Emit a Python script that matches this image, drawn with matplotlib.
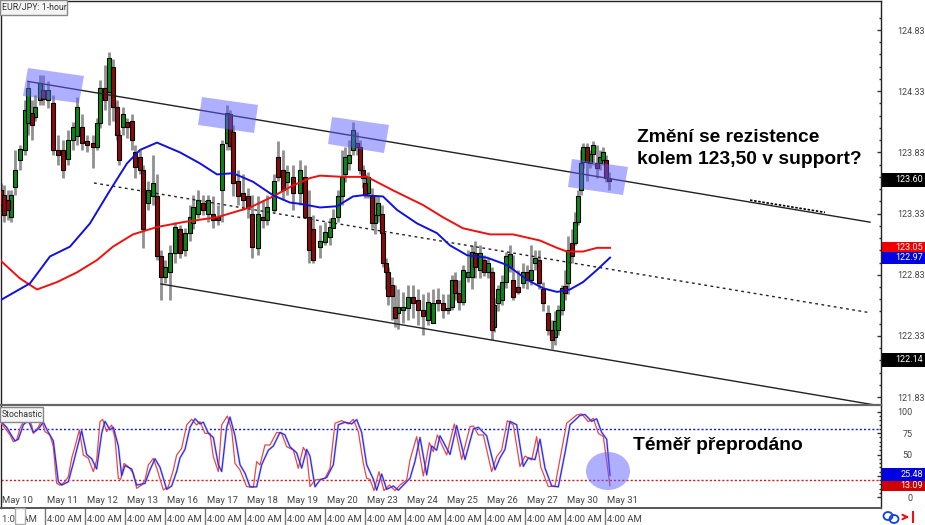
import numpy as np
import matplotlib
matplotlib.use("Agg")
import matplotlib.pyplot as plt
from matplotlib.patches import Polygon, Ellipse, Rectangle
from matplotlib.ticker import FixedLocator

plt.rcParams['font.family'] = ['Roboto', 'DejaVu Sans']

# hourly axis, hours since the left edge of the chart
bar_hours = [0.6,2.4,4.8,6.6,9,12,15,16.8,19.2,21,24,25.8,28.8,31.8,34.8,37.8,40.8,43.8,46.2,49.2,
             52.2,55.8,58.2,60,63,65.4,67.8,70.2,71.4,73.8,76.2,79.2,81,84,85.8,88.8,91.8,94.2,96.6,99,
             102,105,108,111,114,115.8,118.8,121.8,124.8,127.8,130.8,133.2,136.2,138,139.8,142.8,145.8,148.8,151.2,154.8,
             157.8,160.2,164.4,166.8,169.8,172.2,175.8,180,183,185.4,187.8,192,195,198,199.8,202.8,205.2,207,209.4,211.8,
             214.2,216,217.8,219,220.8,223.2,225,226.8,229.2,229.8,231.6,232.8,235.2,237,238.8,241.8,244.8,247.8,250.8,253.8,
             256.8,259.8,262.8,265.8,268.8,271.2,273,275.4,277.8,280.8,283.2,285,288,290.4,292.8,295.2,296.4,298.8,301.2,303.6,
             306,307.8,310.8,313.8,316.2,318.6,321,323.4,325.8,328.8,331.2,333,334.8,337.2,339,340.8,343.2,345,346.8,348.6,
             349.8,352.2,354,355.8,358.2,360,361.8,363.6,365.4]

opens = [123.52,123.48,123.44,123.30,123.55,123.77,123.85,124.07,124.15,124.12,124.26,124.34,124.26,124.23,123.85,123.85,123.78,123.93,123.96,124.04,
         123.92,123.91,123.87,124.07,124.36,124.32,124.53,124.20,123.97,124.04,124.08,124.09,123.83,123.79,123.69,123.42,123.47,123.47,122.98,122.81,
         122.85,123.01,123.20,123.03,123.17,123.25,123.33,123.42,123.33,123.33,123.30,123.52,123.91,124.14,124.00,123.60,123.50,123.47,123.33,123.05,
         123.30,123.28,123.36,123.79,123.69,123.59,123.63,123.50,123.63,123.30,123.20,123.06,123.10,123.14,123.21,123.30,123.47,123.65,123.74,123.85,
         123.91,123.87,123.69,123.58,123.50,123.47,123.25,123.32,123.33,123.17,122.93,122.85,122.75,122.57,122.52,122.54,122.56,122.65,122.62,122.54,
         122.46,122.44,122.62,122.60,122.54,122.57,122.79,122.68,122.61,122.81,122.81,123.01,122.87,122.95,122.85,122.85,122.40,122.60,122.62,122.77,
         122.89,122.79,122.73,122.76,122.85,122.79,122.93,122.95,122.71,122.52,122.38,122.32,122.38,122.54,122.74,122.76,123.09,123.09,123.26,123.52,
         123.75,123.87,123.74,123.82,123.74,123.74,123.77,123.77,123.62]
closes = [123.40,123.32,123.36,123.48,123.69,123.86,124.18,124.36,124.05,124.20,124.40,124.27,124.34,123.85,123.81,123.69,123.93,124.04,124.20,123.91,
          123.89,123.87,124.07,124.36,124.26,124.60,124.20,123.97,123.77,124.14,124.04,123.93,123.71,123.69,123.20,123.52,123.58,122.98,122.81,122.89,
          123.01,123.22,123.01,123.17,123.30,123.38,123.44,123.36,123.44,123.28,123.28,123.90,124.15,123.88,123.58,123.47,123.44,123.38,123.06,123.33,
          123.28,123.38,123.60,123.63,123.52,123.67,123.50,123.69,123.30,123.03,122.95,123.11,123.18,123.22,123.29,123.47,123.63,123.79,123.81,124.01,
          123.87,123.69,123.62,123.48,123.63,123.25,123.32,123.42,123.17,122.93,122.85,122.66,122.66,122.48,122.57,122.57,122.65,122.60,122.54,122.49,
          122.61,122.60,122.60,122.54,122.56,122.79,122.68,122.61,122.87,122.85,123.02,122.89,123.01,122.85,122.93,122.38,122.58,122.71,122.77,122.98,
          123.00,122.65,122.69,122.85,122.79,122.87,122.97,122.76,122.60,122.38,122.30,122.45,122.54,122.72,122.68,123.03,122.98,123.26,123.47,123.74,
          123.87,123.75,123.82,123.89,123.70,123.79,123.83,123.62,123.60]
highs = [123.58,123.56,123.52,123.52,123.85,123.89,124.26,124.41,124.26,124.30,124.46,124.46,124.41,124.30,123.97,123.93,124.01,124.08,124.28,124.14,
         123.97,123.97,124.11,124.42,124.54,124.65,124.59,124.26,124.01,124.20,124.11,124.14,123.89,123.85,123.73,123.60,123.81,123.65,123.03,122.95,
         123.07,123.26,123.24,123.21,123.40,123.48,123.52,123.48,123.48,123.47,123.40,123.93,124.22,124.18,124.05,123.69,123.65,123.54,123.48,123.47,
         123.44,123.48,123.65,123.92,123.85,123.73,123.73,123.77,123.73,123.52,123.32,123.24,123.26,123.29,123.37,123.52,123.85,123.87,123.93,124.08,
         124.00,123.93,123.73,123.65,123.67,123.54,123.48,123.47,123.40,123.21,122.97,122.89,122.81,122.75,122.71,122.69,122.75,122.75,122.71,122.67,
         122.69,122.71,122.72,122.67,122.67,122.83,122.85,122.79,122.91,123.03,123.07,123.11,123.07,122.99,122.97,122.89,122.64,122.75,122.83,123.02,
         123.07,122.99,122.87,122.93,122.91,123.07,123.03,123.03,122.77,122.58,122.46,122.53,122.58,122.75,122.87,123.15,123.20,123.34,123.52,123.85,
         123.91,123.91,123.85,123.92,123.89,123.85,123.87,123.81,123.67]
lows = [123.34,123.26,123.28,123.26,123.48,123.69,123.81,123.97,123.93,124.09,124.22,124.22,124.19,123.81,123.73,123.62,123.73,123.85,123.89,123.85,
        123.83,123.70,123.85,124.03,124.18,124.05,124.09,123.93,123.73,123.97,123.95,123.85,123.62,123.65,123.05,123.36,123.40,122.95,122.62,122.76,
        122.62,122.93,122.97,122.98,123.11,123.20,123.29,123.32,123.26,123.21,123.24,123.26,123.85,123.85,123.47,123.40,123.36,123.29,122.97,122.99,
        123.21,123.24,123.34,123.60,123.44,123.48,123.36,123.40,123.29,122.93,122.93,122.97,123.07,123.07,123.21,123.26,123.40,123.59,123.69,123.81,
        123.81,123.65,123.54,123.46,123.46,123.21,123.16,123.26,123.11,122.89,122.71,122.58,122.46,122.40,122.39,122.44,122.46,122.48,122.42,122.34,
        122.42,122.44,122.53,122.48,122.51,122.54,122.62,122.54,122.58,122.77,122.71,122.80,122.80,122.82,122.80,122.30,122.36,122.53,122.58,122.72,
        122.85,122.62,122.67,122.72,122.71,122.75,122.87,122.71,122.53,122.34,122.22,122.26,122.34,122.50,122.62,122.67,122.93,123.07,123.24,123.48,
        123.70,123.60,123.70,123.73,123.62,123.69,123.73,123.59,123.52]

blue_ma_hours = [0,18,30,42,54,66,76.2,84,94.2,108,120,130.2,139.8,151.8,163.8,174,180,192,202.2,211.8,217.8,229.8,
                 238.2,250.2,262.2,270,280.2,292.2,304.2,316.2,325.8,334.2,342,349.8,358.2,366]
blue_ma = [122.62,122.76,122.98,123.06,123.25,123.52,123.74,123.85,123.91,123.83,123.74,123.65,123.66,123.59,123.48,123.42,123.41,123.38,123.39,123.47,123.48,123.47,
           123.36,123.25,123.17,123.07,122.99,122.97,122.91,122.79,122.72,122.69,122.71,122.77,122.87,122.97]
red_ma_hours = [0,12,22.2,34.2,46.2,58.2,67.8,79.8,94.2,109.8,130.2,150,163.8,175.8,186,192,205.8,220.2,235.8,253.8,265.8,277.8,
                294,307.8,324,334.2,340.2,349.8,358.2,366]
red_ma = [122.95,122.80,122.71,122.77,122.85,122.95,123.06,123.16,123.22,123.26,123.30,123.38,123.47,123.56,123.62,123.64,123.63,123.63,123.52,123.40,123.30,123.21,
          123.16,123.16,123.11,123.05,123.02,123.02,123.05,123.05]

# channel lines: [start, end]
upper_hours, upper_price = [16.8, 522], [124.41, 123.26]
mid_hours, mid_price = [56.4, 522], [123.58, 122.52]
lower_hours, lower_price = [96.6, 525], [122.755, 121.766]
noise_hours, noise_price = [450, 495], [123.44, 123.34]

price_ticks = [124.83, 124.33, 123.83, 123.33, 122.83, 122.33, 121.83]

stoch_red_hours = [0,3,6,8,10,12,14,17,19,20,22,25,27,30,32,34,36,39,41,43,45,47.6,50,53,56,58,60,61.6,64,67,69,71,72.4,74.4,77,80,82,85,87,89,92,94.4,98,101,104,106,109,112,115,118,120,123,126,128,131,133,136.4,139,141,144,148,152,154,156,159,162,166,169,172,176,179,182,184,186,
                   189,192,195,198,201,205,209,212,215,218,220,222,224.4,227.4,230.4,233.6,237,240,244,246,250,254,257.6,260,262.4,268,272.6,277,282,284,287,290,295,298,301,304.4,308,312,315,319,322,324.4,329,333,337,340,346,349,353,356,359,362,366]
stoch_red = [88.6,80.8,73,65.1,67,80.8,88.6,92.5,84.7,74.9,78.8,89.8,76.9,73,59.2,16.1,14.1,18.1,23.9,45.5,59.2,78.8,49.4,45.5,29.8,43.5,88.6,91.4,76.9,84.7,69,22,20.8,39.6,35.7,27.9,10.2,14.1,20,37.7,45.5,31.8,8.3,12.2,31.8,49.4,57.3,84.7,91.4,84.7,88.6,74.9,74.9,47.4,29.8,84.7,95.3,78.8,39.6,31.8,12.2,11.4,41.6,37.7,61.2,61.2,76,74.9,59.2,55.3,33.7,58.4,51.4,12.2,
             20,20.8,22,33.7,86.7,89.8,85.9,91.4,76.9,39.6,22,20.8,7.5,29.8,7.5,14.1,7.5,14.1,20,43.5,71,24.7,63.9,53.3,73,49.4,85.9,44.3,82.7,83.5,73,73,29.8,47.4,55.3,89.8,84.7,35.7,48.2,43.5,71,35.7,12.2,13,55.3,86.7,96.5,97.7,88.6,92.5,74.9,71,13.09]
stoch_blue_hours = [0,4,7,9,11,14,17,20,23,26,29,32,35,37,41,44,47,49,52,55,58,61,63,66,68,71,73,75,79,82,87,90,93,96,100,103,106,108,111,114,117,120,122,125,128,131,133,136,138,141,144,147,150,154,157,161,164,168,171,174,178,181,184,186,
                    189,192,196,200,203,207,211,214,217,220,224,226,229,232,236,239,242,246,249,252,256,259,262,264,270,274,279,284,287,292,297,300,303,306,310,314,317,321,324,327,331,335,339,342,348,351,355,358,361,364,366]
stoch_blue = [90,82,72,66,68,85,90,76,80,88,76,66,18,14,18,40,63,78,50,45,33,75,89,79,82,60,25,37,33,14,16,32,45,35,9,13,30,46,56,82,92,86,88,75,70,38,30,82,94,72,38,28,12,12,38,55,60,76,73,59,52,34,56,48,
              12,20,23,38,85,88,86,91,76,38,21,8,27,9,13,8,14,22,42,70,26,60,55,72,50,84,44,80,82,72,32,46,56,89,85,36,46,44,68,34,13,12,52,85,96,97,89,92,76,68,25.48]

stoch_ticks = [100, 75, 50, 25, 0]
stoch_tick_labels = ['100', '75', '50', '', '0']
day_labels = ['May 10','May 11','May 12','May 13','May 16','May 17','May 18','May 19','May 20',
              'May 23','May 24','May 25','May 26','May 27','May 30','May 31']
time_label = '4:00 AM'

GRAY = '#444444'
fig = plt.figure(figsize=(9.25, 5.25), dpi=100, facecolor='white')

# price panel
ax = fig.add_axes([1/925, 120/525, 880/925, 404/525])
ax.set_xlim(0.6, 528.6)
ax.set_ylim(121.766, 125.067)

o, c, h, l = map(np.array, (opens, closes, highs, lows))
bx = np.array(bar_hours)
up = c >= o
ax.vlines(bx, l, h, color='#909090', lw=2.0, zorder=2)
ax.bar(bx[up], (c-o)[up], bottom=o[up], width=2.3, color='#0a8a14', edgecolor='black', lw=0.8, zorder=3)
ax.bar(bx[~up], (c-o)[~up], bottom=o[~up], width=2.3, color='#8c0a0a', edgecolor='black', lw=0.8, zorder=3)

ax.plot(upper_hours, upper_price, color='#222222', lw=1, zorder=4)
ax.plot(mid_hours, mid_price, color='#222222', lw=1, ls=(0, (2, 2.5)), zorder=4)
ax.plot(lower_hours, lower_price, color='#222222', lw=1, zorder=4)
ax.plot(noise_hours, noise_price, color='black', lw=1.2, ls=(0, (1.5, 1)), zorder=4)
ax.plot(red_ma_hours, red_ma, color='#f01010', lw=1.4, zorder=5)
ax.plot(blue_ma_hours, blue_ma, color='#1010e0', lw=1.4, zorder=5)

ax.yaxis.tick_right()
ax.yaxis.set_major_locator(FixedLocator(price_ticks))
ax.yaxis.set_minor_locator(FixedLocator(np.arange(121.83, 125.0, 0.1)))
ax.set_yticklabels([f'{t:.2f}' for t in price_ticks])
ax.tick_params(axis='y', which='major', direction='in', length=3.2, width=1, pad=11.5, labelsize=6.5, labelcolor=GRAY, color='#333333')
ax.tick_params(axis='y', which='minor', direction='in', length=1.6, width=1, color='#333333')
ax.set_xticks([])
for s in ax.spines.values():
    s.set_color('#222222')
    s.set_linewidth(1)
ax.spines['bottom'].set_visible(False)

# stochastic panel
ax2 = fig.add_axes([1/925, 17/525, 880/925, 103/525])
ax2.set_xlim(0.6, 528.6)
ax2.set_ylim(-12.9, 108.2)
ax2.axhline(80, color='#1818d8', lw=1, ls=(0, (1.5, 1.5)))
ax2.axhline(20, color='#d81818', lw=1, ls=(0, (1.5, 1.5)))
ax2.plot(stoch_blue_hours, stoch_blue, color='#c0c0ff', lw=1.6, zorder=2)
ax2.plot(stoch_red_hours, stoch_red, color='#e84848', lw=0.9, zorder=3)
ax2.plot(stoch_blue_hours, stoch_blue, color='#2828e8', lw=0.8, zorder=3)
ax2.yaxis.tick_right()
ax2.set_yticks(stoch_ticks)
ax2.set_yticklabels(stoch_tick_labels)
ax2.yaxis.set_minor_locator(FixedLocator(np.arange(0, 105, 5)))
ax2.tick_params(axis='y', which='major', direction='in', length=3.2, width=1, pad=23, labelsize=6.5, labelcolor=GRAY, color='#333333')
ax2.tick_params(axis='y', which='minor', direction='in', length=1.6, width=1, color='#333333')
for lab in ax2.get_yticklabels():
    lab.set_ha('right')
for s in ax2.spines.values():
    s.set_color('#222222')
    s.set_linewidth(1)
ax2.spines['top'].set_color('#666666')
ax2.spines['top'].set_linewidth(1.6)
ax2.spines['bottom'].set_color('#555555')
ax2.spines['bottom'].set_linewidth(1.4)

sep_hours = [27 + 24*i for i in range(15)]
ax2.set_xticks(sep_hours)
ax2.set_xticklabels([])
ax2.tick_params(axis='x', direction='out', length=12.5, width=1, color='#777777')
trans = ax2.get_xaxis_transform()
ax2.text(1.5, 0.07, day_labels[0], transform=trans, fontsize=6.8, color=GRAY, va='center')
for hr, lab in zip(sep_hours, day_labels[1:]):
    ax2.text(hr+1.2, 0.07, lab, transform=trans, fontsize=6.8, color=GRAY, va='center')
    ax2.text(hr+1.2, -0.11, time_label, transform=trans, fontsize=6.8, color=GRAY, va='center', clip_on=False)
ax2.text(1.5, -0.11, '1:00 AM', transform=trans, fontsize=6.8, color=GRAY, va='center', clip_on=False)

# overlay in picture pixels: highlights, labels, price flags
ov = fig.add_axes([0, 0, 1, 1], facecolor='none', zorder=10)
ov.set_xlim(0, 925)
ov.set_ylim(525, 0)
ov.axis('off')

hl = dict(facecolor='#6060ff', edgecolor='none', alpha=0.5)
for pts in ([(28,68),(84,76),(79,103),(23,96)],
            [(202,97),(258,105),(254,133),(198,125)],
            [(332,117),(389,125),(384,153),(328,144)],
            [(572,159),(628,167),(623,195),(568,187)]):
    ov.add_patch(Polygon(pts, closed=True, **hl))
ov.add_patch(Ellipse((608, 471), 44, 38, **hl))

ov.text(637, 137, 'Změní se rezistence', family='Liberation Sans', weight='bold', fontsize=13.9, va='center', color='black')
ov.text(637, 159, 'kolem 123,50 v support?', family='Liberation Sans', weight='bold', fontsize=13.9, va='center', color='black')
ov.text(633, 446, 'Téměř přeprodáno', family='Liberation Sans', weight='bold', fontsize=13.9, va='center', color='black')

def name_box(x1, y1, txt):
    ov.add_patch(Rectangle((0, y1), x1, 15, facecolor='#f4f4f4', edgecolor='#888888', lw=1))
    ov.text(2, y1+7.5, txt, fontsize=6.3, color='#333333', va='center')
name_box(67, 0, 'EUR/JPY: 1-hour')
name_box(43, 407, 'Stochastic')

def flag(y0, y1, col, txt):
    ov.add_patch(Rectangle((882, y0), 43, y1-y0, facecolor=col, edgecolor='none'))
    ov.text(923, (y0+y1)/2, txt, color='white', fontsize=6.5, ha='right', va='center')
flag(173, 187, 'black', '123.60')
flag(242, 252, '#f00000', '123.05')
flag(252, 264, '#0000e0', '122.97')
flag(353, 367, 'black', '122.14')
flag(468, 481, '#0000e0', '25.48')
flag(481, 491, '#d00000', '13.09')

# time cursor box and corner icons
ov.add_patch(Rectangle((15, 508), 10, 16, facecolor='white', edgecolor='#aaaaaa', lw=1))
ov.add_patch(Ellipse((888, 516), 9, 8, facecolor='none', edgecolor='#1040e0', lw=1.3))
ov.add_patch(Ellipse((894, 519), 9, 8, facecolor='none', edgecolor='#1040e0', lw=1.3))
ov.annotate('', xy=(912, 517), xytext=(903, 517), arrowprops=dict(arrowstyle='->', color='#f01010', lw=1.5, mutation_scale=8))
ov.plot([913, 913], [512, 522], color='#f01010', lw=1.5)

fig.savefig('out.png', dpi=100)
